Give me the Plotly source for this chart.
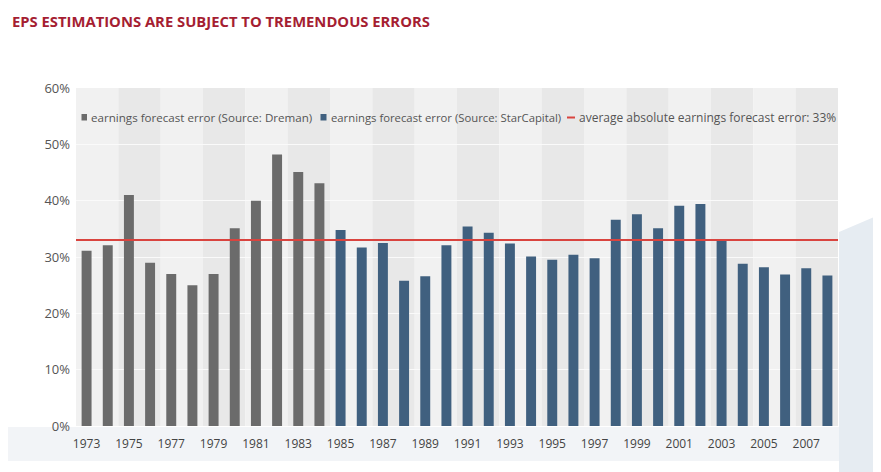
import plotly.graph_objects as go

years_dreman = list(range(1973, 1985))
values_dreman = [31.1, 32.1, 41.0, 29.0, 27.0, 25.0, 27.0, 35.1, 40.0, 48.2, 45.1, 43.1]

years_star = list(range(1985, 2009))
values_star = [34.8, 31.7, 32.5, 25.8, 26.6, 32.1, 35.4, 34.3, 32.4, 30.1, 29.5, 30.4,
               29.8, 36.6, 37.6, 35.1, 39.1, 39.4, 33.0, 28.8, 28.2, 26.9, 28.0, 26.7]

avg_error = 33
all_years = years_dreman + years_star
tick_years = all_years[::2]
tick_labels = [str(y) for y in tick_years]
y_ticks = [0, 10, 20, 30, 40, 50, 60]
y_labels = [f"{v}%" for v in y_ticks]

title_text = "EPS ESTIMATIONS ARE SUBJECT TO TREMENDOUS ERRORS"
name_dreman = "earnings forecast error (Source: Dreman)"
name_star = "earnings forecast error (Source: StarCapital)"
name_avg = f"average absolute earnings forecast error: {avg_error}%"

GREY = "#6b6b6b"
BLUE = "#40607f"
RED = "#d9443f"

# geometry (figure pixels)
W, H = 873, 464
ML, MR, MT, MB = 68, 43, 80, 46
PW, PH = W - ML - MR, H - MT - MB


def px(x):  # screen x -> paper
    return (x - 8 - ML) / PW


def py(y):  # screen y -> paper
    return (H - MB - (y - 8)) / PH


fig = go.Figure()
fig.add_trace(go.Bar(x=years_dreman, y=values_dreman, name=name_dreman,
                     marker=dict(color=GREY, line=dict(width=0)), width=0.47))
fig.add_trace(go.Bar(x=years_star, y=values_star, name=name_star,
                     marker=dict(color=BLUE, line=dict(width=0)), width=0.47))
x_lo = all_years[0] - 0.5
x_hi = all_years[-1] + 0.5
fig.add_trace(go.Scatter(x=[x_lo, x_hi], y=[avg_error, avg_error], mode="lines",
                         name=name_avg, line=dict(color=RED, width=2)))

shapes = []
# decorative light backdrop beneath the axis and at the right
shapes.append(dict(type="rect", xref="paper", yref="paper", x0=px(6), x1=px(872),
                   y0=py(461), y1=py(427), fillcolor="#f2f4f7", line=dict(width=0), layer="below"))
shapes.append(dict(type="path", xref="paper", yref="paper",
                   path=f"M {px(839)},{py(232)} L {px(881)},{py(214)} L {px(881)},{py(472)} L {px(839)},{py(472)} Z",
                   fillcolor="#e6ecf2", line=dict(width=0), layer="below"))
for i in range(0, len(all_years), 2):
    shade = "#f1f1f1" if (i // 2) % 2 == 0 else "#e8e8e8"
    shapes.append(dict(type="rect", xref="x", yref="y", x0=all_years[i] - 0.5,
                       x1=all_years[i] + 1.5, y0=0, y1=60, fillcolor=shade,
                       line=dict(width=0), layer="below"))

# custom legend symbols
shapes.append(dict(type="rect", xref="paper", yref="paper", x0=px(81.5), x1=px(87),
                   y0=py(120.5), y1=py(114), fillcolor=GREY, line=dict(width=0)))
shapes.append(dict(type="rect", xref="paper", yref="paper", x0=px(320.5), x1=px(326.5),
                   y0=py(120.5), y1=py(114), fillcolor=BLUE, line=dict(width=0)))
shapes.append(dict(type="rect", xref="paper", yref="paper", x0=px(567), x1=px(575),
                   y0=py(118.5), y1=py(116.5), fillcolor=RED, line=dict(width=0)))

leg_font = dict(family="Open Sans", size=12, color="#555555")
annotations = [
    dict(text=f"<b>{title_text}</b>", xref="paper", yref="paper", x=px(10), y=py(21),
         xanchor="left", yanchor="middle", showarrow=False,
         font=dict(family="Open Sans", size=14.8, color="#a51e32")),
    dict(text=name_dreman, xref="paper", yref="paper", x=px(88.5), y=py(117.5),
         xanchor="left", yanchor="middle", showarrow=False, font=dict(leg_font, size=11.6)),
    dict(text=name_star, xref="paper", yref="paper", x=px(328.5), y=py(117.5),
         xanchor="left", yanchor="middle", showarrow=False, font=dict(leg_font, size=11.3)),
    dict(text=name_avg, xref="paper", yref="paper", x=px(576.5), y=py(117.5),
         xanchor="left", yanchor="middle", showarrow=False, font=leg_font),
]

fig.update_layout(
    width=W, height=H,
    margin=dict(l=ML, r=MR, t=MT, b=MB),
    paper_bgcolor="white", plot_bgcolor="rgba(0,0,0,0)",
    shapes=shapes, annotations=annotations,
    showlegend=False,
    bargap=0.5,
    font=dict(family="Open Sans", color="#555555"),
)
fig.update_xaxes(range=[x_lo, x_hi], tickmode="array", tickvals=tick_years, ticktext=tick_labels,
                 showgrid=False, zeroline=False, showline=False, ticks="", ticklabelstandoff=9,
                 tickfont=dict(family="Open Sans", size=12, color="#444444"))
fig.update_yaxes(range=[0, 60], tickmode="array", tickvals=y_ticks, ticktext=y_labels,
                 showgrid=True, gridcolor="#fafafa", gridwidth=1, zeroline=False, showline=False,
                 ticks="", ticklabelstandoff=5,
                 tickfont=dict(family="Open Sans", size=13, color="#555555"))

fig.write_html("out.html")
